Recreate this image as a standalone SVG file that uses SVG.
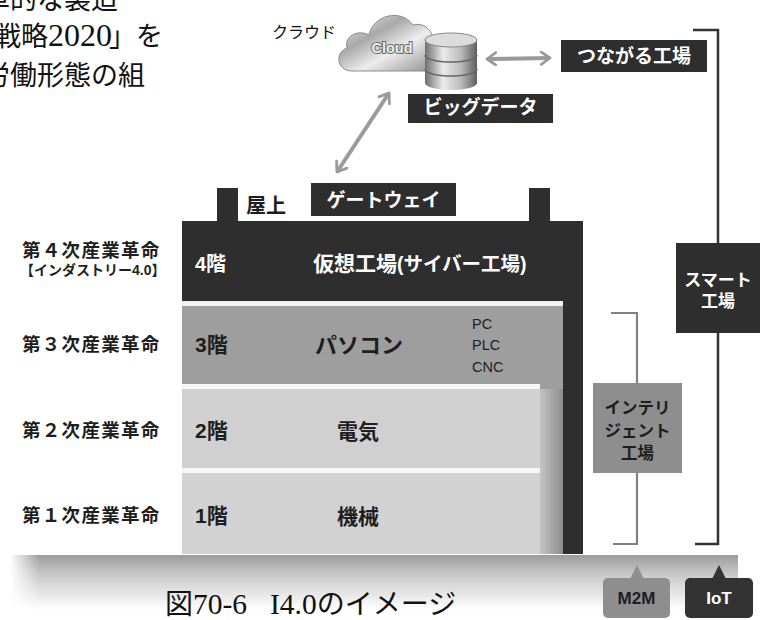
<svg xmlns="http://www.w3.org/2000/svg" width="764" height="620" viewBox="0 0 764 620">
  <style>
    .jp { font-family: "Liberation Sans", "Noto Sans CJK JP", sans-serif; }
    .body { font-family: "Liberation Serif", "Noto Sans CJK JP", serif; fill: #111; }
    .dark { fill: #2e2e2e; }
    .wt { fill: #fff; font-weight: 700; }
    .bk { fill: #1e1e1e; font-weight: 700; }
    .arrow { stroke: #9a9a9a; stroke-width: 4; fill: none; }
  </style>
  <defs>
    <marker id="chev" viewBox="0 0 10 12" refX="8" refY="6" markerWidth="3.2" markerHeight="3.8" orient="auto-start-reverse" markerUnits="strokeWidth">
      <path d="M1,1 L8,6 L1,11" fill="none" stroke="#9a9a9a" stroke-width="2.2" stroke-linecap="round" stroke-linejoin="round"/>
    </marker>
    <linearGradient id="cloudGrad" x1="0" y1="0" x2="1" y2="1">
      <stop offset="0" stop-color="#f2f2f2"/>
      <stop offset="0.35" stop-color="#a9a9a9"/>
      <stop offset="0.6" stop-color="#ededed"/>
      <stop offset="1" stop-color="#8a8a8a"/>
    </linearGradient>
    <linearGradient id="cylGrad" x1="0" y1="0" x2="1" y2="0">
      <stop offset="0" stop-color="#6e6e6e"/>
      <stop offset="0.35" stop-color="#ececec"/>
      <stop offset="0.7" stop-color="#b8b8b8"/>
      <stop offset="1" stop-color="#5e5e5e"/>
    </linearGradient>
    <linearGradient id="colGrad" x1="0" y1="0" x2="1" y2="0">
      <stop offset="0" stop-color="#c4c4c4"/>
      <stop offset="1" stop-color="#8c8c8c"/>
    </linearGradient>
    <linearGradient id="groundGrad" x1="0" y1="0" x2="0" y2="1">
      <stop offset="0" stop-color="#9c9c9c"/>
      <stop offset="0.35" stop-color="#c8c8c8"/>
      <stop offset="1" stop-color="#ffffff"/>
    </linearGradient>
    <linearGradient id="groundFade" x1="0" y1="0" x2="1" y2="0">
      <stop offset="0" stop-color="#fff" stop-opacity="0"/>
      <stop offset="0.04" stop-color="#fff" stop-opacity="1"/>
      <stop offset="1" stop-color="#fff" stop-opacity="1"/>
    </linearGradient>
    <mask id="groundMask">
      <rect x="10" y="555" width="728" height="55" fill="url(#groundFade)"/>
    </mask>
  </defs>

  <!-- running text at the top left, clipped by the page edge -->
  <g id="bodytext" class="body">
    <text x="-17" y="9" font-size="27">革的な製造</text>
    <text x="-6" y="46" font-size="27">戦略<tspan font-size="32">2020</tspan><tspan dx="-3">」を</tspan></text>
    <text x="-17" y="85" font-size="27">労働形態の組</text>
  </g>

  <!-- ground -->
  <g id="ground">
    <rect x="10" y="555" width="728" height="55" fill="url(#groundGrad)" mask="url(#groundMask)"/>
  </g>

  <!-- building: floors nested as L-shapes -->
  <g id="building">
    <rect x="217" y="188" width="21" height="34" class="dark"/>
    <rect x="529" y="188" width="21" height="34" class="dark"/>
    <rect x="182" y="221" width="401" height="333" class="dark"/>
    <rect x="182" y="301" width="381" height="5" fill="#f4f4f4"/>
    <rect x="182" y="306" width="381" height="248" fill="#9e9e9e"/>
    <rect x="540" y="389" width="23" height="165" fill="url(#colGrad)"/>
    <rect x="182" y="384" width="358" height="5" fill="#f6f6f6"/>
    <rect x="182" y="389" width="358" height="79" fill="#d0d0d0"/>
    <rect x="182" y="468" width="358" height="5" fill="#f6f6f6"/>
    <rect x="182" y="473" width="358" height="81" fill="#d2d2d2"/>
  </g>

  <g id="floor4" class="jp">
    <text x="195" y="271" font-size="20" class="wt">4階</text>
    <text x="313" y="271" font-size="21" class="wt">仮想工場<tspan font-size="19.5">(サイバー工場)</tspan></text>
  </g>
  <g id="floor3" class="jp">
    <text x="195" y="352" font-size="21" class="bk">3階</text>
    <text x="315" y="353" font-size="22" class="bk">パソコン</text>
    <text x="472" y="329" font-size="14.5" fill="#222">PC</text>
    <text x="472" y="350" font-size="14.5" fill="#222">PLC</text>
    <text x="472" y="372" font-size="14.5" fill="#222">CNC</text>
  </g>
  <g id="floor2" class="jp">
    <text x="195" y="438" font-size="21" class="bk">2階</text>
    <text x="337" y="439" font-size="21" class="bk">電気</text>
  </g>
  <g id="floor1" class="jp">
    <text x="195" y="523" font-size="21" class="bk">1階</text>
    <text x="337" y="524" font-size="21" class="bk">機械</text>
  </g>

  <g id="roof" class="jp">
    <text x="246" y="213" font-size="20" class="bk">屋上</text>
  </g>

  <!-- era labels on the left -->
  <g id="eras" class="jp" fill="#1e1e1e" font-weight="700">
    <text x="22" y="257" font-size="18.5" letter-spacing="1.3">第４次産業革命</text>
    <text x="20" y="275" font-size="14">【インダストリー4.0】</text>
    <text x="22" y="351" font-size="18.5" letter-spacing="1.3">第３次産業革命</text>
    <text x="22" y="437" font-size="18.5" letter-spacing="1.3">第２次産業革命</text>
    <text x="22" y="522" font-size="18.5" letter-spacing="1.3">第１次産業革命</text>
  </g>

  <!-- cloud with database -->
  <g id="cloud">
    <text x="272" y="38" font-size="16" class="jp" fill="#111">クラウド</text>
    <path d="M352,71 C337,71 334,53 347,48 C344,36 358,29 369,35 C373,15 401,8 413,25 C427,21 437,36 432,48 C440,52 440,71 428,71 Z" fill="url(#cloudGrad)" stroke="#8c8c8c" stroke-width="1"/>
    <text x="392" y="53" font-size="14.5" text-anchor="middle" font-family="Liberation Sans, sans-serif" font-weight="700" fill="#eeeeee" stroke="#6a6a6a" stroke-width="2" paint-order="stroke">Cloud</text>
  </g>
  <g id="bigdata">
    <path d="M425,40 V83 A26,7 0 0 0 477,83 V40 Z" fill="url(#cylGrad)"/>
    <ellipse cx="451" cy="40" rx="26" ry="7" fill="#dcdcdc" stroke="#888" stroke-width="1"/>
    <path d="M425,55 A26,7 0 0 0 477,55 M425,69 A26,7 0 0 0 477,69" fill="none" stroke="#666" stroke-width="1.5"/>
    <rect x="408" y="94" width="145" height="29" class="dark"/>
    <text x="480.5" y="114" font-size="19" text-anchor="middle" class="jp wt">ビッグデータ</text>
  </g>
  <g id="connected">
    <rect x="561" y="40" width="146" height="32" class="dark"/>
    <text x="634" y="63" font-size="19" text-anchor="middle" class="jp wt">つながる工場</text>
  </g>
  <g id="gateway">
    <rect x="311" y="183" width="145" height="33" class="dark"/>
    <text x="383.5" y="207" font-size="19" text-anchor="middle" class="jp wt">ゲートウェイ</text>
  </g>

  <!-- factory classifications on the right -->
  <g id="smart">
    <rect x="676" y="243" width="84" height="90" class="dark"/>
    <text x="718" y="286" font-size="17" text-anchor="middle" class="jp wt">スマート</text>
    <text x="718" y="307" font-size="17" text-anchor="middle" class="jp wt">工場</text>
  </g>
  <g id="intelligent">
    <rect x="593" y="383" width="89" height="90" fill="#8e8e8e"/>
    <text x="637.5" y="414" font-size="16.5" text-anchor="middle" class="jp bk">インテリ</text>
    <text x="637.5" y="437" font-size="16.5" text-anchor="middle" class="jp bk">ジェント</text>
    <text x="637.5" y="459" font-size="16.5" text-anchor="middle" class="jp bk">工場</text>
  </g>
  <g id="m2m">
    <rect x="603" y="578" width="67" height="40" rx="5" fill="#8e8e8e"/>
    <path d="M630,579 L637,565 L644,579 Z" fill="#8e8e8e"/>
    <text x="636.5" y="604" font-size="17" text-anchor="middle" class="jp bk">M2M</text>
  </g>
  <g id="iot">
    <rect x="685" y="578" width="68" height="40" rx="5" fill="#333"/>
    <path d="M712,579 L719,565 L726,579 Z" fill="#333"/>
    <text x="719" y="604" font-size="17" text-anchor="middle" class="jp wt">IoT</text>
  </g>

  <!-- connectors -->
  <g id="connectors">
    <line x1="487" y1="59" x2="550" y2="58" class="arrow" marker-start="url(#chev)" marker-end="url(#chev)"/>
    <line x1="337" y1="172" x2="389" y2="93" class="arrow" marker-start="url(#chev)" marker-end="url(#chev)"/>
    <path d="M693,30 H718 V243 M718,333 V544 H695" fill="none" stroke="#333" stroke-width="2.5"/>
    <path d="M611,313 H637 V383 M637,473 V544 H613" fill="none" stroke="#808080" stroke-width="2.2"/>
  </g>

  <!-- caption -->
  <g id="caption" class="body">
    <text x="165" y="614" font-size="28">図<tspan font-size="29.5">70-6</tspan><tspan x="270" font-size="29.5">I4.0</tspan>のイメージ</text>
  </g>
</svg>
